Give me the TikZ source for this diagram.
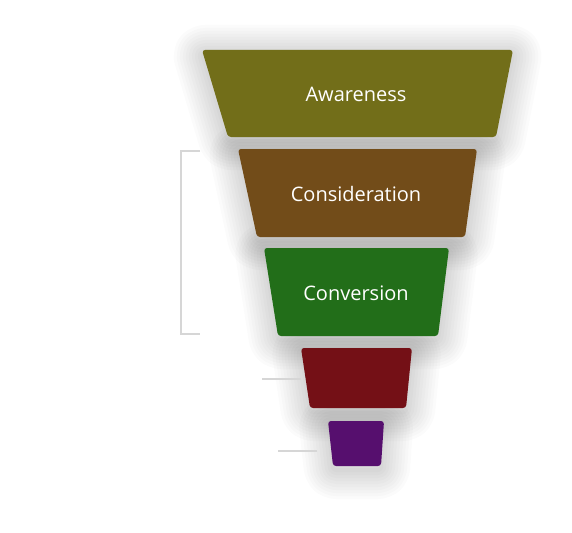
\documentclass[tikz,border=0pt]{standalone}
\usepackage{fontspec}
\usepackage{xcolor}
\usepackage{tikz}
\newfontfamily\stagefont{Open Sans}
\definecolor{awareC}{HTML}{726E19}
\definecolor{considerC}{HTML}{724C19}
\definecolor{convertC}{HTML}{226E19}
\definecolor{retainC}{HTML}{741016}
\definecolor{advocateC}{HTML}{560F6E}
\definecolor{guideC}{HTML}{D6D6D6}
\tikzset{
    stage/.style={rounded corners=3pt},
    halo/.style={draw=black, opacity=0.014, line join=round, rounded corners=3pt},
    stagetext/.style={text=white, font=\stagefont\fontsize{20}{24}\selectfont},
    guide/.style={draw=guideC, line width=1.5pt}
}

\begin{document}
\begin{tikzpicture}[x=1pt, y=-1pt]
    \fill[white] (0,0) rectangle (572,532);
    \useasboundingbox (0,0) rectangle (572,532);

    % soft shadows under the stages
    \foreach \ya/\yb/\xa/\xb/\xc/\xd in {50/137/202/513/496/228, 149/237/238/477/465/257,
        248/336/264/449/438/278, 348/408/301/412/406/310, 421/466/328/384/381/333}
        \foreach \w in {4,10,...,58}
            \draw[halo, line width=\w pt] (\xa,\ya+4) -- (\xb,\ya+4) -- (\xc,\yb+4) -- (\xd,\yb+4) -- cycle;

    % funnel stages
    \foreach \ya/\yb/\xa/\xb/\xc/\xd/\col in {50/137/202/513/496/228/awareC, 149/237/238/477/465/257/considerC,
        248/336/264/449/438/278/convertC, 348/408/301/412/406/310/retainC, 421/466/328/384/381/333/advocateC}
        \fill[stage, fill=\col] (\xa,\ya) -- (\xb,\ya) -- (\xc,\yb) -- (\xd,\yb) -- cycle;

    \node[stagetext] (aware) at (356,94) {Awareness};
    \node[stagetext] (consider) at (356,194) {Consideration};
    \node[stagetext] (convert) at (356,293) {Conversion};

    % side guides
    \coordinate (bTop) at (200,151);
    \coordinate (bBot) at (200,334);
    \draw[guide] (bTop) -- ++(-19,0) |- (bBot);
    \coordinate (rGuide) at (301,379);
    \coordinate (pGuide) at (317,451);
    \draw[guide] (rGuide) -- ++(-39,0);
    \draw[guide] (pGuide) -- ++(-39,0);
\end{tikzpicture}
\end{document}
